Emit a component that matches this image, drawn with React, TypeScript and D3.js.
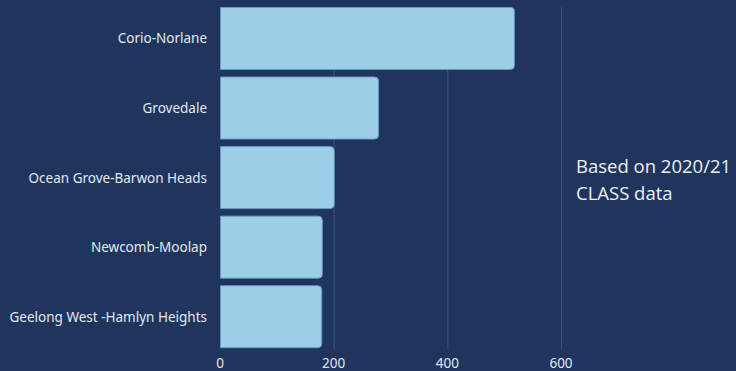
import React from "react";
import * as d3 from "d3";

const categories = [
  "Corio-Norlane",
  "Grovedale",
  "Ocean Grove-Barwon Heads",
  "Newcomb-Moolap",
  "Geelong West -Hamlyn Heights",
];
const values = [518, 279, 201, 180, 179];
const xTicks = [0, 200, 400, 600];
const noteLines = ["Based on 2020/21", "CLASS data"];

const W = 736;
const H = 371;
const BG = "#1f355e";

function barPath(x0: number, x1: number, y0: number, h: number, r: number) {
  const rr = Math.min(r, (x1 - x0) / 2, h / 2);
  return `M${x0},${y0}H${x1 - rr}Q${x1},${y0} ${x1},${y0 + rr}V${y0 + h - rr}Q${x1},${y0 + h} ${x1 - rr},${y0 + h}H${x0}Z`;
}

export default function App() {
  const x = d3.scaleLinear().domain([0, 600]).range([220, 561]);
  const y = d3
    .scaleBand<string>()
    .domain(categories)
    .range([3.7, 351.5])
    .paddingInner(0.094)
    .paddingOuter(0.047);

  return (
    <svg
      width={W}
      height={H}
      style={{ position: "absolute", left: 0, top: 0, display: "block" }}
    >
      <rect x={0} y={0} width={W} height={H} fill={BG} />
      {xTicks.slice(1).map((t) => (
        <line
          key={t}
          x1={x(t) + 0.5}
          x2={x(t) + 0.5}
          y1={7}
          y2={349}
          stroke="#3a5482"
          strokeWidth={1}
        />
      ))}
      {categories.map((c, i) => {
        const y0 = y(c)!;
        const h = y.bandwidth();
        return (
          <path
            key={c}
            d={barPath(x(0) + 0.5, x(values[i]), y0 + 0.5, h - 1, 4)}
            fill="#9ccfe7"
            stroke="#6a98bf"
            strokeWidth={1}
          />
        );
      })}
      {categories.map((c) => (
        <text
          key={c}
          x={207}
          y={y(c)! + y.bandwidth() / 2}
          dy="0.37em"
          textAnchor="end"
          fontFamily="'Noto Sans', 'Open Sans', sans-serif"
          fontSize={13.5}
          fill="#e3e8f0"
        >
          {c}
        </text>
      ))}
      {xTicks.map((t) => (
        <text
          key={t}
          x={x(t)}
          y={368}
          textAnchor="middle"
          fontFamily="'Noto Sans', 'Open Sans', sans-serif"
          fontSize={13.5}
          fill="#e3e8f0"
        >
          {t}
        </text>
      ))}
      {noteLines.map((l, i) => (
        <text
          key={l}
          x={576}
          y={173 + i * 27}
          fontFamily="'Open Sans', 'Noto Sans', sans-serif"
          fontSize={18.5}
          fill="#eef0f4"
        >
          {l}
        </text>
      ))}
    </svg>
  );
}
